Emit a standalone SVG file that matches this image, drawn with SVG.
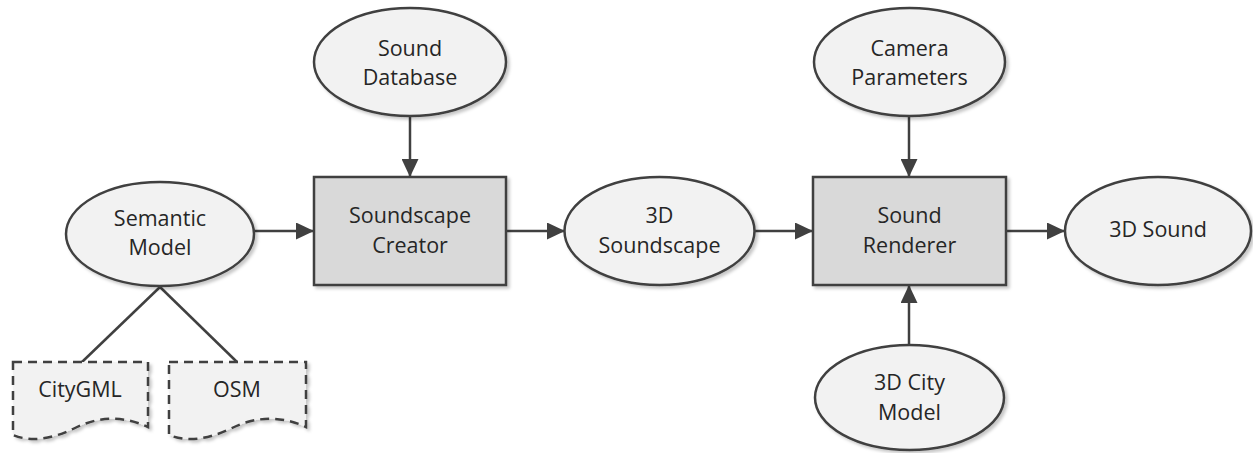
<svg xmlns="http://www.w3.org/2000/svg" width="1253" height="453" viewBox="0 0 1253 453">
<style>
.ell{fill:#f2f2f2;stroke:#404040;stroke-width:2.5}
.box{fill:#d9d9d9;stroke:#404040;stroke-width:2.5}
.doc{fill:#f2f2f2;stroke:#404040;stroke-width:2.5;stroke-dasharray:9 6}
.lbl{font-family:"Open Sans","Noto Sans",sans-serif;font-size:21.5px;fill:#262626;text-anchor:middle}
.con{stroke:#404040;stroke-width:2.5;fill:none}
.shd{filter:url(#sh)}
</style>
<defs>
<filter id="sh" x="-10%" y="-10%" width="130%" height="130%">
<feDropShadow dx="2.5" dy="2.5" stdDeviation="1.5" flood-color="#000" flood-opacity="0.22"/>
</filter>
<marker id="arr" markerUnits="userSpaceOnUse" markerWidth="18" markerHeight="17" viewBox="0 0 18 17" refX="17" refY="8.5" orient="auto">
<path d="M0,0 L18,8.5 L0,17 Z" fill="#404040"/>
</marker>
</defs>
<g id="connectors">
<line class="con" x1="254" y1="231" x2="313" y2="231" marker-end="url(#arr)"/>
<line class="con" x1="410" y1="117" x2="410" y2="176" marker-end="url(#arr)"/>
<line class="con" x1="506" y1="231" x2="564" y2="231" marker-end="url(#arr)"/>
<line class="con" x1="754" y1="231" x2="812" y2="231" marker-end="url(#arr)"/>
<line class="con" x1="909" y1="117" x2="909" y2="176" marker-end="url(#arr)"/>
<line class="con" x1="909" y1="345" x2="909" y2="286" marker-end="url(#arr)"/>
<line class="con" x1="1006" y1="231" x2="1064" y2="231" marker-end="url(#arr)"/>
<line class="con" x1="160" y1="287" x2="82" y2="362"/>
<line class="con" x1="160" y1="287" x2="237" y2="362"/>
</g>
<g id="semantic-model">
<ellipse class="ell shd" cx="160" cy="234" rx="94" ry="52"/>
<text class="lbl" x="160" y="226">Semantic</text>
<text class="lbl" x="160" y="255">Model</text>
</g>
<g id="sound-database">
<ellipse class="ell shd" cx="410" cy="62" rx="96" ry="54"/>
<text class="lbl" x="410" y="56">Sound</text>
<text class="lbl" x="410" y="85">Database</text>
</g>
<g id="soundscape-creator">
<rect class="box shd" x="314" y="177" width="192" height="108"/>
<text class="lbl" x="410" y="223">Soundscape</text>
<text class="lbl" x="410" y="253">Creator</text>
</g>
<g id="3d-soundscape">
<ellipse class="ell shd" cx="659.5" cy="231" rx="95" ry="54"/>
<text class="lbl" x="659.5" y="223">3D</text>
<text class="lbl" x="659.5" y="253">Soundscape</text>
</g>
<g id="camera-parameters">
<ellipse class="ell shd" cx="909.5" cy="62" rx="95.5" ry="54"/>
<text class="lbl" x="909.5" y="56">Camera</text>
<text class="lbl" x="909.5" y="85">Parameters</text>
</g>
<g id="sound-renderer">
<rect class="box shd" x="813" y="177" width="193" height="108"/>
<text class="lbl" x="909.5" y="223">Sound</text>
<text class="lbl" x="909.5" y="253">Renderer</text>
</g>
<g id="3d-sound">
<ellipse class="ell shd" cx="1158" cy="231" rx="93" ry="54"/>
<text class="lbl" x="1158" y="237">3D Sound</text>
</g>
<g id="3d-city-model">
<ellipse class="ell shd" cx="909.5" cy="397.5" rx="94.5" ry="52.5"/>
<text class="lbl" x="909.5" y="390">3D City</text>
<text class="lbl" x="909.5" y="420">Model</text>
</g>
<g id="citygml">
<path class="doc shd" d="M13,362 H148 V427 C120,414 95,418 75,428 C50,440 30,442 13,435 Z"/>
<text class="lbl" x="80" y="397">CityGML</text>
</g>
<g id="osm">
<path class="doc shd" d="M169,362 H306 V427 C278,414 252,418 232,428 C207,440 187,442 169,435 Z"/>
<text class="lbl" x="237" y="397">OSM</text>
</g>
</svg>
